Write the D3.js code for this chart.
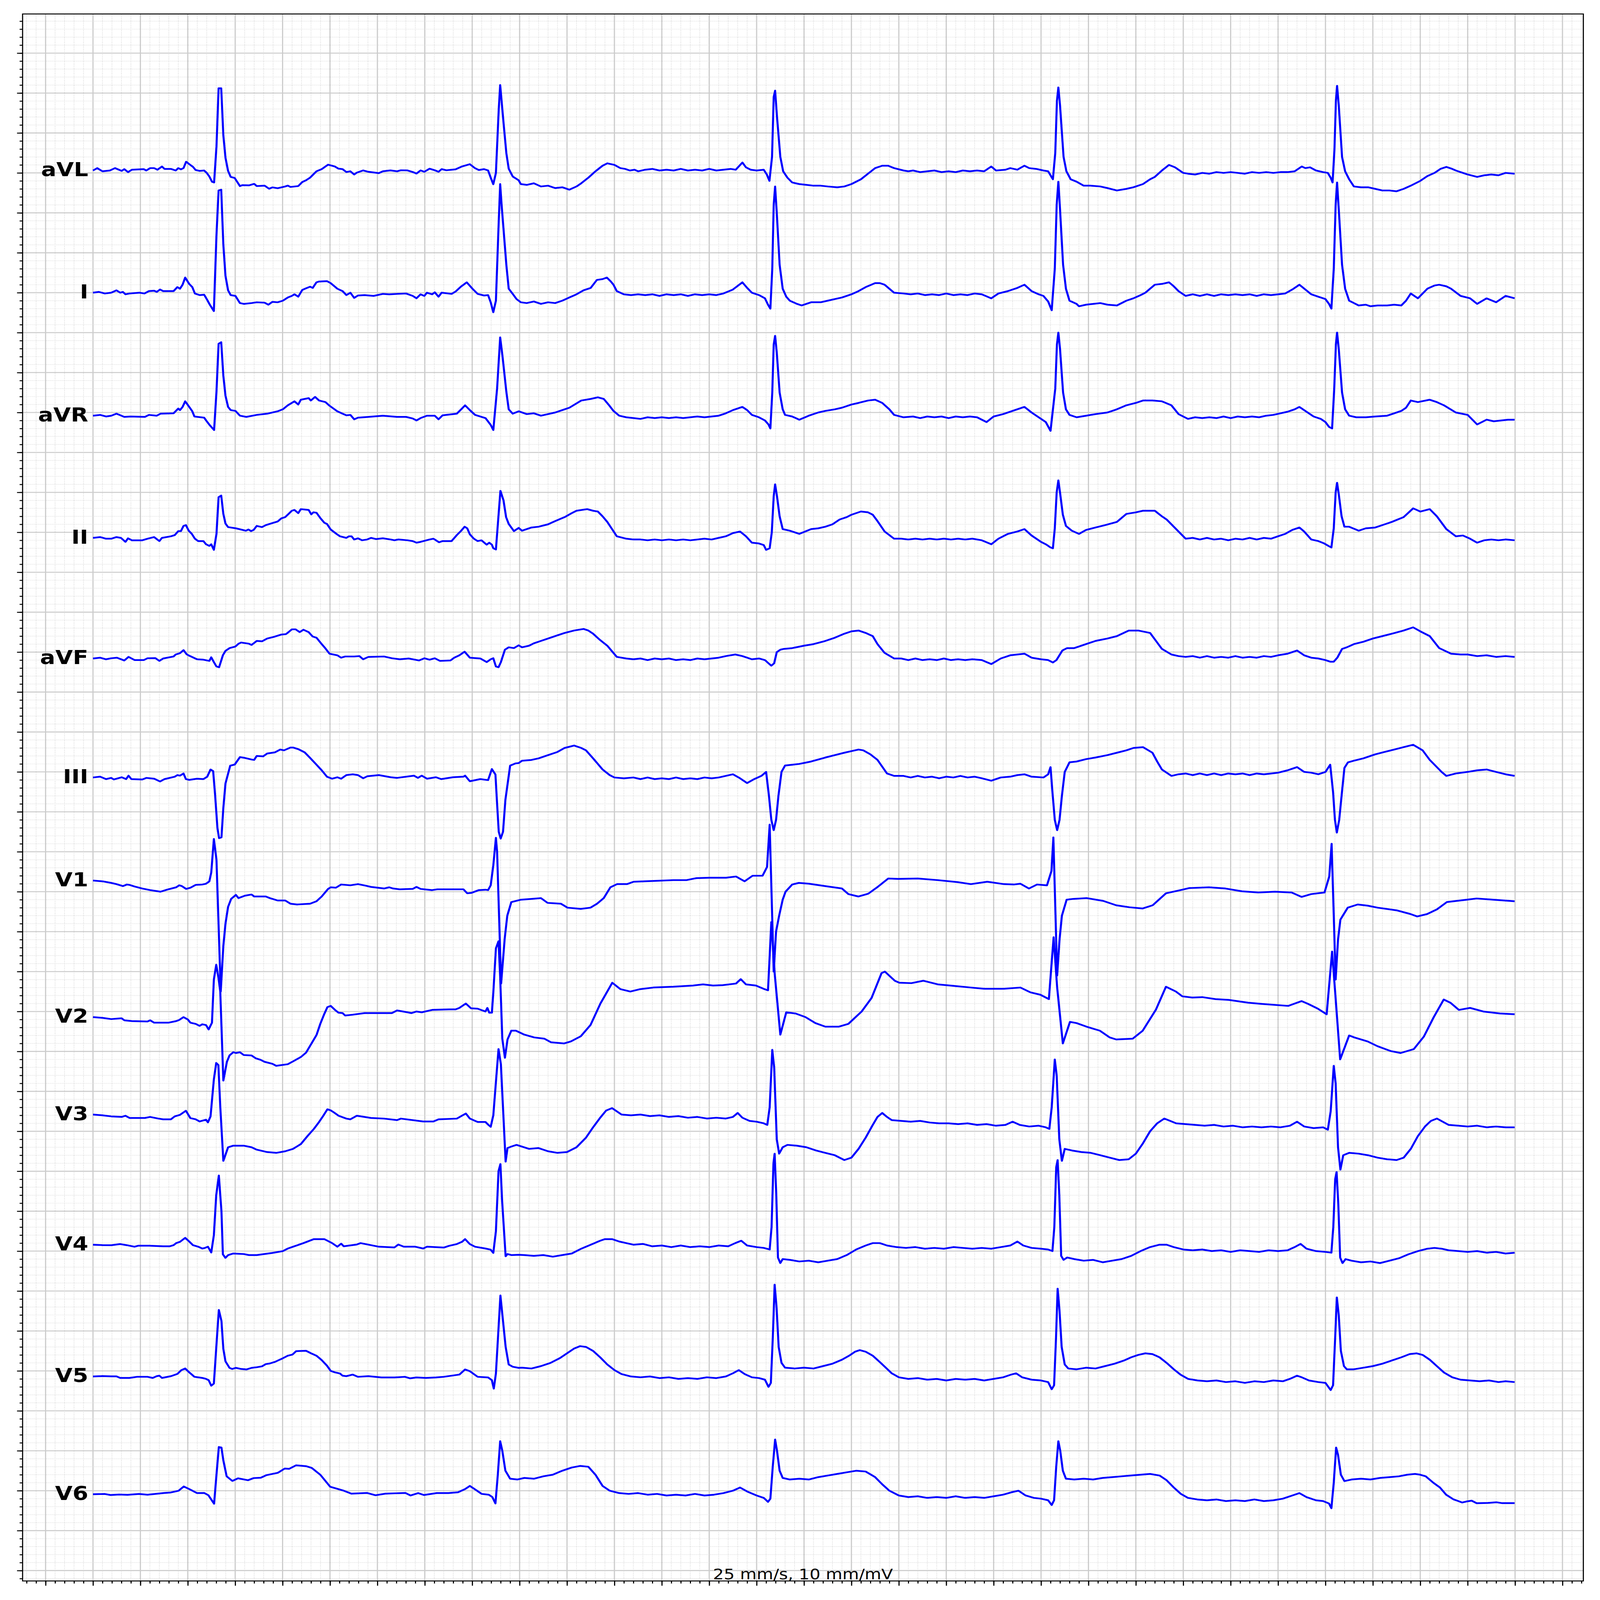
<!DOCTYPE html>
<html>
<head>
<meta charset="utf-8">
<script src="https://cdn.jsdelivr.net/npm/d3@7"></script>
<style>
html, body { margin: 0; padding: 0; background: #fff; overflow: hidden; }
svg { display: block; }
</style>
</head>
<body>
<div id="chart"></div>
<script>
// 12 lead ECG, 6 s, values as [seconds, mV]
const leadNames = ["aVL", "I", "aVR", "II", "aVF", "III", "V1", "V2", "V3", "V4", "V5", "V6"]
const leadOffsets = [0, -1.5, -3, -4.5, -6, -7.5, -9, -10.5, -12, -13.5, -15, -16.5]
const caption = "25 mm/s, 10 mm/mV"
const xLimits = [-0.297, 6.288]
const yLimits = [-17.63, 1.99]

const aVL = [[0,0.03],[0.018,0.06],[0.04,0.02],[0.071,0.03],[0.093,0.06],[0.121,0.025],[0.132,0.047],[0.148,0.01],[0.164,0.04],[0.214,0.047],[0.225,0.03],[0.241,0.06],[0.258,0.06],[0.272,0.04],[0.291,0.08],[0.302,0.05],[0.329,0.05],[0.349,0.03],[0.36,0.06],[0.371,0.045],[0.382,0.06],[0.393,0.14],[0.406,0.11],[0.422,0.075],[0.433,0.036],[0.45,0.025],[0.469,0.03],[0.48,0],[0.491,-0.045],[0.502,-0.11],[0.511,-0.12],[0.521,0.33],[0.53,1.06],[0.541,1.06],[0.55,0.47],[0.559,0.19],[0.57,0.025],[0.581,-0.05],[0.598,-0.064],[0.62,-0.165],[0.63,-0.153],[0.658,-0.156],[0.68,-0.137],[0.691,-0.165],[0.724,-0.159],[0.743,-0.198],[0.757,-0.181],[0.779,-0.192],[0.811,-0.17],[0.822,-0.159],[0.833,-0.176],[0.866,-0.165],[0.883,-0.114],[0.899,-0.092],[0.916,-0.059],[0.943,0.02],[0.965,0.047],[0.992,0.103],[1.02,0.081],[1.036,0.053],[1.053,0.047],[1.069,0.011],[1.086,0.02],[1.102,-0.02],[1.113,0.003],[1.14,0.031],[1.162,0.014],[1.206,-0.003],[1.223,0.02],[1.255,0.031],[1.283,0.02],[1.299,0.033],[1.327,0.031],[1.349,0.011],[1.365,-0.008],[1.382,0.031],[1.398,0.014],[1.42,0.053],[1.442,0.033],[1.458,0.014],[1.471,0.047],[1.491,0.033],[1.53,0.045],[1.557,0.081],[1.59,0.109],[1.612,0.059],[1.628,0.036],[1.65,0.047],[1.667,0.031],[1.678,-0.059],[1.689,-0.142],[1.7,0],[1.712,0.8],[1.718,1.1],[1.724,0.9],[1.733,0.6],[1.744,0.248],[1.754,0.053],[1.771,-0.045],[1.796,-0.092],
[1.805,-0.14],[1.83,-0.15],[1.86,-0.13],[1.89,-0.17],[1.92,-0.16],[1.95,-0.19],[1.98,-0.18],[2.01,-0.21],[2.04,-0.17],[2.06,-0.13],[2.09,-0.06],[2.12,0.02],[2.15,0.09],[2.17,0.12],[2.2,0.1],[2.225,0.06],[2.245,0.05],[2.265,0.03],[2.285,0.04],[2.3,0.02],[2.33,0.04],[2.36,0.05],[2.39,0.03],[2.42,0.04],[2.45,0.03],[2.48,0.05],[2.51,0.03],[2.54,0.04],[2.57,0.03],[2.6,0.05],[2.63,0.03],[2.66,0.04],[2.69,0.05],[2.712,0.04],[2.74,0.13],[2.755,0.07],[2.775,0.04],[2.8,0.03],[2.83,0.04],[2.843,-0.02],[2.854,-0.1],[2.865,0.2],[2.872,0.95],[2.878,1.03],[2.886,0.7],[2.9,0.2],[2.912,0.02],[2.93,-0.06],
[2.95,-0.12],[2.98,-0.14],[3.01,-0.15],[3.04,-0.16],[3.07,-0.16],[3.1,-0.17],[3.14,-0.18],[3.17,-0.17],[3.2,-0.14],[3.24,-0.08],[3.27,-0.01],[3.3,0.06],[3.33,0.09],[3.355,0.09],[3.38,0.06],[3.42,0.03],[3.44,0.02],[3.46,0.03],[3.49,0.01],[3.52,0.02],[3.55,0.03],[3.58,0.01],[3.61,0.02],[3.64,0.01],[3.67,0.03],[3.7,0.02],[3.73,0.03],[3.76,0.02],[3.79,0.08],[3.81,0.03],[3.85,0.04],[3.87,0.06],[3.9,0.04],[3.93,0.09],[3.95,0.06],[3.98,0.05],[4.01,0.03],[4.03,0.02],[4.04,-0.03],[4.05,-0.08],[4.06,0.25],[4.067,0.9],[4.073,1.07],[4.08,0.85],[4.095,0.2],[4.107,0.02],[4.125,-0.08],
[4.15,-0.11],[4.18,-0.16],[4.21,-0.16],[4.25,-0.17],[4.28,-0.19],[4.32,-0.22],[4.36,-0.2],[4.39,-0.18],[4.43,-0.14],[4.46,-0.08],[4.48,-0.05],[4.51,0.03],[4.54,0.1],[4.565,0.07],[4.6,0],[4.62,-0.01],[4.65,-0.02],[4.68,0],[4.71,-0.01],[4.74,0.01],[4.77,0],[4.8,0.01],[4.83,0],[4.86,-0.01],[4.89,0.01],[4.92,0],[4.95,0.01],[4.98,0],[5.01,0.01],[5.04,0.01],[5.07,0.02],[5.1,0.08],[5.115,0.06],[5.135,0.07],[5.16,0.03],[5.19,0.01],[5.21,0],[5.222,-0.06],[5.23,-0.12],[5.238,0.3],[5.244,0.9],[5.249,1.09],[5.256,0.85],[5.27,0.2],[5.283,0.02],[5.3,-0.08],
[5.32,-0.17],[5.35,-0.18],[5.38,-0.18],[5.41,-0.2],[5.44,-0.22],[5.47,-0.22],[5.5,-0.23],[5.53,-0.2],[5.56,-0.16],[5.6,-0.1],[5.63,-0.04],[5.66,0],[5.685,0.05],[5.71,0.075],[5.735,0.05],[5.75,0.03],[5.78,0],[5.8,-0.02],[5.84,-0.05],[5.87,-0.03],[5.9,-0.02],[5.93,-0.03],[5.96,0],[5.998,-0.01]]

const leadI = [[0,0],[0.025,0.01],[0.05,-0.01],[0.077,0],[0.099,0.03],[0.115,0],[0.126,0.01],[0.137,-0.02],[0.154,-0.01],[0.197,0],[0.217,-0.01],[0.236,0.02],[0.258,0.025],[0.269,0.01],[0.283,0.04],[0.296,0.02],[0.34,0.02],[0.356,0.07],[0.367,0.05],[0.378,0.1],[0.389,0.19],[0.406,0.11],[0.419,0.07],[0.43,-0.01],[0.45,-0.03],[0.469,-0.025],[0.48,-0.08],[0.493,-0.15],[0.51,-0.23],[0.521,0.72],[0.53,1.28],[0.541,1.29],[0.55,0.6],[0.559,0.21],[0.57,0.03],[0.581,-0.03],[0.601,-0.04],[0.62,-0.13],[0.636,-0.14],[0.669,-0.13],[0.691,-0.12],[0.724,-0.125],[0.74,-0.15],[0.757,-0.115],[0.779,-0.12],[0.801,-0.1],[0.822,-0.06],[0.839,-0.04],[0.85,-0.02],[0.866,-0.05],[0.883,0.035],[0.899,0.055],[0.916,0.075],[0.927,0.06],[0.943,0.13],[0.954,0.14],[0.987,0.145],[1.003,0.12],[1.031,0.05],[1.053,0.02],[1.069,-0.03],[1.086,0],[1.102,-0.065],[1.118,-0.035],[1.146,-0.03],[1.184,-0.04],[1.223,-0.015],[1.25,-0.02],[1.283,-0.015],[1.321,-0.01],[1.349,-0.04],[1.365,-0.07],[1.382,-0.02],[1.398,-0.04],[1.409,0],[1.431,-0.02],[1.442,0.005],[1.458,-0.05],[1.471,0],[1.513,-0.015],[1.53,0.015],[1.552,0.075],[1.577,0.13],[1.601,0.05],[1.623,-0.015],[1.65,-0.035],[1.667,-0.03],[1.678,-0.12],[1.689,-0.245],[1.7,-0.1],[1.712,0.9],[1.718,1.36],[1.724,1.1],[1.744,0.35],[1.754,0.05],[1.771,-0.015],[1.787,-0.08],
[1.805,-0.12],[1.83,-0.13],[1.86,-0.11],[1.89,-0.14],[1.92,-0.12],[1.95,-0.13],[1.98,-0.1],[2.01,-0.06],[2.04,-0.02],[2.07,0.03],[2.1,0.06],[2.126,0.16],[2.15,0.17],[2.168,0.19],[2.185,0.14],[2.196,0.1],[2.21,0.02],[2.24,-0.02],[2.27,-0.03],[2.3,-0.02],[2.33,-0.03],[2.36,-0.02],[2.39,-0.04],[2.42,-0.02],[2.45,-0.03],[2.48,-0.02],[2.51,-0.04],[2.54,-0.02],[2.57,-0.03],[2.6,-0.02],[2.63,-0.03],[2.66,-0.01],[2.7,0.04],[2.74,0.13],[2.76,0.06],[2.78,0],[2.81,-0.03],[2.835,-0.07],[2.848,-0.15],[2.858,-0.2],[2.866,0.3],[2.872,1.1],[2.878,1.33],[2.885,1],[2.897,0.35],[2.91,0.05],[2.925,-0.05],
[2.94,-0.1],[2.97,-0.14],[2.99,-0.16],[3.01,-0.14],[3.03,-0.12],[3.07,-0.12],[3.1,-0.1],[3.13,-0.08],[3.16,-0.06],[3.2,-0.02],[3.23,0.02],[3.26,0.07],[3.3,0.12],[3.32,0.12],[3.34,0.1],[3.36,0.05],[3.38,0],[3.42,-0.01],[3.45,-0.02],[3.48,-0.01],[3.51,-0.03],[3.54,-0.02],[3.57,-0.03],[3.6,-0.01],[3.63,-0.03],[3.66,-0.02],[3.69,-0.03],[3.72,-0.01],[3.75,-0.02],[3.79,-0.07],[3.82,-0.01],[3.86,0.02],[3.9,0.06],[3.93,0.1],[3.96,0.02],[3.99,-0.02],[4.01,-0.04],[4.03,-0.11],[4.045,-0.22],[4.058,0.3],[4.066,1.1],[4.073,1.39],[4.08,1.05],[4.093,0.35],[4.105,0.05],[4.12,-0.1],
[4.15,-0.14],[4.16,-0.17],[4.19,-0.15],[4.22,-0.14],[4.25,-0.13],[4.28,-0.15],[4.32,-0.16],[4.36,-0.1],[4.39,-0.07],[4.42,-0.03],[4.44,0],[4.48,0.1],[4.51,0.11],[4.54,0.13],[4.56,0.08],[4.58,0.02],[4.61,-0.04],[4.64,-0.02],[4.67,-0.04],[4.7,-0.02],[4.73,-0.04],[4.76,-0.02],[4.79,-0.03],[4.82,-0.02],[4.85,-0.03],[4.88,-0.02],[4.91,-0.04],[4.94,-0.02],[4.97,-0.03],[5,-0.02],[5.03,-0.01],[5.06,0.04],[5.09,0.1],[5.115,0.04],[5.14,-0.02],[5.17,-0.05],[5.2,-0.08],[5.215,-0.14],[5.225,-0.2],[5.235,0.3],[5.243,1.1],[5.249,1.38],[5.256,1.05],[5.27,0.35],[5.283,0.05],[5.3,-0.1],
[5.32,-0.13],[5.34,-0.16],[5.37,-0.15],[5.39,-0.17],[5.42,-0.16],[5.46,-0.16],[5.49,-0.15],[5.52,-0.16],[5.54,-0.1],[5.56,-0.01],[5.59,-0.07],[5.63,0.05],[5.66,0.09],[5.68,0.1],[5.71,0.08],[5.73,0.05],[5.77,-0.04],[5.81,-0.07],[5.84,-0.14],[5.88,-0.07],[5.92,-0.12],[5.96,-0.04],[5.998,-0.07]]

const aVR = [[0,-0.04],[0.03,-0.03],[0.055,-0.05],[0.077,-0.04],[0.099,-0.015],[0.132,-0.055],[0.159,-0.05],[0.219,-0.055],[0.236,-0.03],[0.269,-0.04],[0.285,-0.015],[0.34,-0.01],[0.36,0.05],[0.367,0.03],[0.378,0.07],[0.389,0.14],[0.406,0.07],[0.419,0.015],[0.428,-0.05],[0.469,-0.065],[0.48,-0.11],[0.493,-0.16],[0.511,-0.22],[0.521,0.26],[0.53,0.86],[0.541,0.88],[0.55,0.46],[0.559,0.21],[0.57,0.07],[0.581,0.03],[0.601,0.02],[0.62,-0.04],[0.647,-0.055],[0.691,-0.03],[0.735,-0.015],[0.779,0.015],[0.801,0.04],[0.822,0.09],[0.85,0.14],[0.866,0.1],[0.877,0.16],[0.91,0.18],[0.919,0.15],[0.937,0.195],[0.954,0.15],[0.981,0.13],[0.998,0.085],[1.031,0.015],[1.053,-0.015],[1.069,-0.035],[1.086,-0.03],[1.102,-0.085],[1.118,-0.065],[1.162,-0.055],[1.223,-0.04],[1.283,-0.055],[1.321,-0.055],[1.349,-0.075],[1.365,-0.1],[1.382,-0.07],[1.409,-0.04],[1.442,-0.04],[1.458,-0.085],[1.475,-0.035],[1.535,-0.015],[1.557,0.05],[1.57,0.09],[1.59,0.03],[1.612,-0.03],[1.656,-0.07],[1.678,-0.155],[1.689,-0.22],[1.705,0.3],[1.718,0.94],[1.728,0.7],[1.744,0.26],[1.754,0.04],[1.771,-0.015],[1.796,0.015],
[1.83,-0.02],[1.86,-0.01],[1.89,-0.04],[1.92,-0.02],[1.95,0],[1.98,0.03],[2.01,0.06],[2.06,0.15],[2.1,0.17],[2.13,0.19],[2.155,0.17],[2.175,0.1],[2.196,0.02],[2.22,-0.04],[2.25,-0.06],[2.28,-0.07],[2.31,-0.08],[2.34,-0.06],[2.37,-0.07],[2.4,-0.06],[2.43,-0.07],[2.46,-0.06],[2.49,-0.07],[2.52,-0.06],[2.55,-0.05],[2.58,-0.06],[2.61,-0.05],[2.64,-0.04],[2.67,-0.01],[2.7,0.03],[2.74,0.07],[2.76,0.03],[2.78,-0.03],[2.81,-0.06],[2.835,-0.1],[2.85,-0.15],[2.858,-0.2],[2.866,0.25],[2.872,0.85],[2.878,0.96],[2.885,0.75],[2.897,0.25],[2.91,0.04],[2.92,-0.03],
[2.95,-0.05],[2.98,-0.09],[3.02,-0.04],[3.06,0],[3.09,0.02],[3.13,0.04],[3.16,0.06],[3.2,0.1],[3.23,0.12],[3.27,0.15],[3.3,0.16],[3.33,0.12],[3.36,0.04],[3.38,-0.03],[3.42,-0.06],[3.46,-0.05],[3.49,-0.07],[3.52,-0.05],[3.55,-0.06],[3.58,-0.05],[3.61,-0.07],[3.64,-0.05],[3.67,-0.06],[3.7,-0.05],[3.73,-0.06],[3.77,-0.12],[3.8,-0.05],[3.84,-0.02],[3.88,0.02],[3.93,0.07],[3.96,0],[3.99,-0.06],[4.02,-0.12],[4.04,-0.23],[4.06,0.3],[4.067,0.85],[4.073,1],[4.08,0.8],[4.093,0.25],[4.105,0.04],[4.12,-0.03],
[4.15,-0.06],[4.19,-0.04],[4.23,-0.02],[4.28,0],[4.32,0.04],[4.36,0.09],[4.4,0.12],[4.43,0.15],[4.47,0.15],[4.51,0.14],[4.55,0.09],[4.58,-0.02],[4.62,-0.08],[4.65,-0.06],[4.68,-0.07],[4.71,-0.06],[4.74,-0.07],[4.77,-0.05],[4.8,-0.07],[4.83,-0.05],[4.86,-0.06],[4.89,-0.05],[4.92,-0.06],[4.95,-0.04],[4.98,-0.03],[5.01,-0.01],[5.04,0.01],[5.07,0.04],[5.09,0.07],[5.12,0.01],[5.15,-0.05],[5.18,-0.08],[5.2,-0.12],[5.215,-0.18],[5.228,-0.2],[5.237,0.3],[5.244,0.85],[5.249,1],[5.256,0.8],[5.27,0.25],[5.283,0.04],[5.3,-0.04],
[5.33,-0.06],[5.37,-0.06],[5.41,-0.05],[5.46,-0.04],[5.49,-0.01],[5.52,0.02],[5.54,0.06],[5.56,0.15],[5.59,0.13],[5.64,0.16],[5.67,0.13],[5.7,0.09],[5.75,0],[5.8,-0.03],[5.84,-0.15],[5.88,-0.09],[5.91,-0.11],[5.94,-0.1],[5.97,-0.09],[5.998,-0.09]]

const leadII = [[0,-0.07],[0.03,-0.06],[0.055,-0.08],[0.077,-0.08],[0.099,-0.06],[0.118,-0.07],[0.137,-0.12],[0.148,-0.075],[0.164,-0.1],[0.208,-0.1],[0.23,-0.08],[0.258,-0.06],[0.28,-0.11],[0.291,-0.07],[0.329,-0.05],[0.345,-0.035],[0.36,0.015],[0.371,0.015],[0.382,0.08],[0.392,0.09],[0.404,0.02],[0.417,-0.02],[0.43,-0.08],[0.444,-0.11],[0.466,-0.11],[0.477,-0.15],[0.491,-0.17],[0.499,-0.15],[0.51,-0.22],[0.521,-0.02],[0.53,0.44],[0.541,0.46],[0.55,0.23],[0.559,0.11],[0.57,0.065],[0.603,0.05],[0.645,0.02],[0.656,0.035],[0.667,0.015],[0.678,0.03],[0.691,0.08],[0.713,0.065],[0.729,0.09],[0.762,0.12],[0.779,0.135],[0.795,0.175],[0.811,0.19],[0.825,0.23],[0.839,0.27],[0.85,0.28],[0.866,0.24],[0.877,0.29],[0.91,0.28],[0.921,0.225],[0.93,0.25],[0.943,0.245],[0.96,0.175],[0.976,0.12],[0.987,0.105],[1.003,0.035],[1.025,-0.015],[1.042,-0.05],[1.069,-0.07],[1.08,-0.05],[1.091,-0.05],[1.102,-0.09],[1.118,-0.075],[1.135,-0.1],[1.157,-0.09],[1.173,-0.07],[1.195,-0.085],[1.223,-0.075],[1.256,-0.09],[1.272,-0.1],[1.288,-0.09],[1.327,-0.1],[1.349,-0.11],[1.365,-0.13],[1.382,-0.12],[1.42,-0.09],[1.436,-0.08],[1.447,-0.1],[1.46,-0.125],[1.475,-0.11],[1.513,-0.11],[1.535,-0.035],[1.552,0.015],[1.568,0.07],[1.579,0.05],[1.59,-0.025],[1.607,-0.08],[1.623,-0.11],[1.639,-0.1],[1.661,-0.155],[1.672,-0.13],[1.683,-0.155],[1.689,-0.2],[1.7,-0.215],[1.719,0.52],[1.732,0.4],[1.743,0.19],[1.754,0.105],[1.776,0.015],[1.796,0.055],
[1.81,0.02],[1.85,0.06],[1.88,0.07],[1.92,0.1],[1.95,0.14],[1.99,0.19],[2.02,0.24],[2.04,0.27],[2.085,0.29],[2.11,0.27],[2.13,0.26],[2.15,0.2],[2.17,0.13],[2.19,0.04],[2.21,-0.05],[2.25,-0.08],[2.28,-0.09],[2.31,-0.09],[2.34,-0.1],[2.37,-0.09],[2.4,-0.1],[2.43,-0.09],[2.46,-0.1],[2.49,-0.09],[2.52,-0.1],[2.55,-0.09],[2.58,-0.08],[2.61,-0.09],[2.64,-0.07],[2.67,-0.05],[2.7,-0.01],[2.73,0.01],[2.755,-0.05],[2.78,-0.13],[2.81,-0.14],[2.83,-0.16],[2.84,-0.22],[2.855,-0.2],[2.864,0],[2.872,0.45],[2.878,0.6],[2.886,0.45],[2.897,0.2],[2.91,0.04],
[2.94,0.02],[2.98,-0.02],[3.03,0.04],[3.06,0.05],[3.09,0.07],[3.12,0.1],[3.15,0.16],[3.18,0.19],[3.2,0.22],[3.24,0.26],[3.27,0.25],[3.29,0.22],[3.31,0.14],[3.34,0.01],[3.38,-0.08],[3.41,-0.08],[3.44,-0.09],[3.47,-0.08],[3.5,-0.09],[3.53,-0.08],[3.56,-0.09],[3.59,-0.08],[3.62,-0.09],[3.65,-0.08],[3.68,-0.09],[3.71,-0.08],[3.75,-0.1],[3.79,-0.15],[3.82,-0.08],[3.86,-0.02],[3.9,0.01],[3.93,0.04],[3.96,-0.04],[4,-0.12],[4.02,-0.15],[4.04,-0.19],[4.05,-0.2],[4.058,0.05],[4.066,0.5],[4.073,0.65],[4.08,0.5],[4.092,0.22],[4.105,0.08],
[4.13,0.02],[4.16,-0.02],[4.19,0.03],[4.23,0.06],[4.27,0.09],[4.32,0.13],[4.36,0.23],[4.4,0.25],[4.43,0.27],[4.48,0.27],[4.51,0.2],[4.53,0.16],[4.57,0.04],[4.61,-0.08],[4.64,-0.07],[4.67,-0.09],[4.7,-0.07],[4.73,-0.09],[4.76,-0.08],[4.79,-0.1],[4.82,-0.08],[4.85,-0.09],[4.88,-0.07],[4.91,-0.09],[4.94,-0.07],[4.97,-0.08],[5,-0.05],[5.03,-0.02],[5.06,0.03],[5.09,0.06],[5.11,0.01],[5.14,-0.09],[5.17,-0.11],[5.195,-0.14],[5.212,-0.17],[5.225,-0.19],[5.235,0.05],[5.243,0.5],[5.249,0.62],[5.256,0.48],[5.268,0.2],[5.28,0.07],
[5.3,0.07],[5.34,0.02],[5.37,0.05],[5.41,0.06],[5.45,0.1],[5.48,0.13],[5.53,0.19],[5.57,0.3],[5.6,0.26],[5.64,0.29],[5.67,0.2],[5.71,0.04],[5.75,-0.05],[5.78,-0.04],[5.81,-0.08],[5.84,-0.13],[5.87,-0.1],[5.9,-0.09],[5.93,-0.1],[5.96,-0.09],[5.998,-0.1]]

const aVF = [[0,-0.08],[0.03,-0.07],[0.055,-0.09],[0.077,-0.077],[0.101,-0.07],[0.132,-0.105],[0.15,-0.06],[0.176,-0.1],[0.214,-0.1],[0.23,-0.077],[0.263,-0.075],[0.28,-0.11],[0.296,-0.08],[0.34,-0.055],[0.349,-0.03],[0.367,-0.013],[0.382,0.025],[0.395,-0.027],[0.406,-0.045],[0.439,-0.09],[0.466,-0.095],[0.491,-0.11],[0.499,-0.065],[0.51,-0.125],[0.521,-0.18],[0.532,-0.19],[0.548,-0.04],[0.559,0.015],[0.576,0.05],[0.601,0.07],[0.614,0.105],[0.625,0.12],[0.658,0.105],[0.669,0.09],[0.678,0.11],[0.691,0.14],[0.713,0.135],[0.735,0.17],[0.762,0.19],[0.795,0.22],[0.814,0.225],[0.825,0.25],[0.839,0.285],[0.855,0.285],[0.872,0.25],[0.888,0.28],[0.91,0.25],[0.927,0.195],[0.943,0.18],[0.965,0.1],[0.981,0.045],[0.998,-0.02],[1.031,-0.04],[1.047,-0.07],[1.064,-0.055],[1.102,-0.055],[1.124,-0.05],[1.14,-0.09],[1.162,-0.06],[1.228,-0.055],[1.261,-0.077],[1.294,-0.09],[1.332,-0.08],[1.376,-0.105],[1.398,-0.077],[1.42,-0.095],[1.442,-0.077],[1.464,-0.11],[1.508,-0.105],[1.524,-0.07],[1.546,-0.04],[1.568,0.005],[1.59,-0.07],[1.634,-0.08],[1.661,-0.125],[1.678,-0.09],[1.689,-0.077],[1.7,-0.18],[1.711,-0.19],[1.721,-0.125],[1.738,0.03],[1.754,0.06],[1.776,0.05],[1.796,0.085],
[1.81,0.06],[1.84,0.08],[1.86,0.11],[1.89,0.14],[1.92,0.17],[1.96,0.21],[1.99,0.24],[2.03,0.27],[2.07,0.29],[2.09,0.27],[2.11,0.23],[2.14,0.15],[2.17,0.08],[2.19,0.01],[2.21,-0.06],[2.25,-0.08],[2.28,-0.09],[2.31,-0.08],[2.34,-0.1],[2.37,-0.08],[2.4,-0.09],[2.43,-0.08],[2.46,-0.1],[2.49,-0.09],[2.52,-0.1],[2.55,-0.08],[2.58,-0.09],[2.61,-0.08],[2.64,-0.07],[2.67,-0.05],[2.71,-0.03],[2.74,-0.05],[2.78,-0.09],[2.81,-0.08],[2.835,-0.1],[2.85,-0.14],[2.862,-0.17],[2.874,-0.14],[2.885,0],[2.9,0.03],[2.915,0.04],
[2.95,0.05],[3,0.08],[3.04,0.1],[3.09,0.14],[3.13,0.18],[3.17,0.23],[3.2,0.26],[3.23,0.27],[3.26,0.24],[3.29,0.2],[3.31,0.1],[3.34,-0.01],[3.38,-0.08],[3.41,-0.08],[3.44,-0.1],[3.47,-0.08],[3.5,-0.1],[3.53,-0.09],[3.56,-0.1],[3.59,-0.08],[3.62,-0.1],[3.65,-0.09],[3.68,-0.1],[3.71,-0.09],[3.75,-0.1],[3.79,-0.15],[3.83,-0.08],[3.87,-0.04],[3.93,-0.02],[3.96,-0.07],[4,-0.09],[4.03,-0.1],[4.05,-0.13],[4.065,-0.1],[4.09,0.02],[4.11,0.05],
[4.14,0.05],[4.19,0.1],[4.23,0.14],[4.28,0.17],[4.32,0.2],[4.37,0.27],[4.41,0.27],[4.46,0.24],[4.49,0.12],[4.51,0.04],[4.55,-0.03],[4.58,-0.05],[4.61,-0.06],[4.64,-0.05],[4.67,-0.07],[4.7,-0.05],[4.73,-0.07],[4.76,-0.06],[4.79,-0.07],[4.82,-0.05],[4.85,-0.07],[4.88,-0.06],[4.91,-0.07],[4.94,-0.05],[4.97,-0.06],[5,-0.04],[5.04,-0.02],[5.08,0.02],[5.11,-0.04],[5.14,-0.07],[5.17,-0.08],[5.2,-0.1],[5.22,-0.12],[5.235,-0.12],[5.25,-0.07],[5.27,0.04],[5.29,0.06],
[5.32,0.1],[5.36,0.13],[5.4,0.17],[5.44,0.2],[5.48,0.23],[5.53,0.27],[5.57,0.31],[5.6,0.26],[5.64,0.2],[5.68,0.05],[5.73,-0.02],[5.77,-0.03],[5.8,-0.03],[5.84,-0.05],[5.88,-0.04],[5.92,-0.06],[5.96,-0.05],[5.998,-0.06]]

const leadIII = [[0,-0.07],[0.03,-0.06],[0.055,-0.09],[0.077,-0.075],[0.088,-0.095],[0.121,-0.067],[0.14,-0.09],[0.15,-0.047],[0.162,-0.09],[0.208,-0.095],[0.225,-0.075],[0.258,-0.085],[0.283,-0.12],[0.302,-0.09],[0.345,-0.06],[0.356,-0.04],[0.367,-0.047],[0.382,-0.02],[0.392,-0.09],[0.406,-0.1],[0.439,-0.085],[0.466,-0.09],[0.482,-0.06],[0.496,0.03],[0.507,0.01],[0.515,-0.28],[0.525,-0.7],[0.532,-0.83],[0.542,-0.82],[0.55,-0.45],[0.559,-0.145],[0.579,0.078],[0.598,0.092],[0.62,0.185],[0.641,0.175],[0.669,0.155],[0.68,0.15],[0.691,0.2],[0.718,0.195],[0.735,0.23],[0.768,0.245],[0.79,0.28],[0.806,0.27],[0.833,0.305],[0.844,0.305],[0.866,0.285],[0.893,0.245],[0.916,0.175],[0.943,0.09],[0.965,0.02],[0.987,-0.06],[1.009,-0.085],[1.031,-0.067],[1.047,-0.085],[1.069,-0.04],[1.096,-0.03],[1.118,-0.04],[1.14,-0.08],[1.157,-0.055],[1.206,-0.04],[1.256,-0.067],[1.283,-0.075],[1.354,-0.047],[1.371,-0.075],[1.387,-0.047],[1.409,-0.085],[1.447,-0.067],[1.469,-0.09],[1.519,-0.067],[1.563,-0.06],[1.57,-0.047],[1.59,-0.117],[1.634,-0.09],[1.667,-0.103],[1.683,0.036],[1.698,-0.033],[1.705,-0.4],[1.712,-0.75],[1.72,-0.835],[1.73,-0.75],[1.74,-0.35],[1.76,0.078],[1.782,0.106],[1.796,0.11],
[1.81,0.14],[1.85,0.15],[1.88,0.17],[1.92,0.21],[1.96,0.25],[1.99,0.3],[2.03,0.33],[2.06,0.3],[2.08,0.27],[2.11,0.17],[2.15,0.03],[2.18,-0.04],[2.2,-0.07],[2.24,-0.08],[2.28,-0.07],[2.31,-0.09],[2.34,-0.07],[2.37,-0.09],[2.4,-0.08],[2.43,-0.09],[2.46,-0.07],[2.49,-0.09],[2.52,-0.08],[2.55,-0.09],[2.58,-0.07],[2.61,-0.08],[2.64,-0.07],[2.7,-0.03],[2.73,-0.08],[2.76,-0.14],[2.79,-0.09],[2.82,-0.05],[2.84,0],[2.852,-0.3],[2.862,-0.6],[2.872,-0.73],[2.882,-0.6],[2.892,-0.3],[2.905,0],[2.92,0.08],
[2.95,0.09],[2.98,0.1],[3.03,0.13],[3.09,0.18],[3.13,0.21],[3.17,0.24],[3.2,0.26],[3.23,0.28],[3.25,0.27],[3.28,0.22],[3.31,0.15],[3.35,-0.02],[3.38,-0.05],[3.42,-0.05],[3.45,-0.07],[3.48,-0.05],[3.51,-0.07],[3.54,-0.06],[3.57,-0.08],[3.6,-0.06],[3.63,-0.07],[3.66,-0.05],[3.69,-0.07],[3.72,-0.06],[3.75,-0.08],[3.79,-0.11],[3.83,-0.07],[3.87,-0.06],[3.9,-0.04],[3.93,-0.03],[3.96,-0.06],[4.01,-0.07],[4.03,-0.03],[4.04,0.06],[4.048,-0.25],[4.058,-0.6],[4.068,-0.73],[4.078,-0.6],[4.088,-0.3],[4.1,0],[4.12,0.12],
[4.15,0.13],[4.19,0.16],[4.23,0.18],[4.28,0.21],[4.32,0.24],[4.36,0.27],[4.39,0.3],[4.43,0.31],[4.47,0.24],[4.49,0.13],[4.51,0.03],[4.55,-0.05],[4.58,-0.03],[4.61,-0.02],[4.64,-0.04],[4.67,-0.02],[4.7,-0.04],[4.73,-0.02],[4.76,-0.04],[4.79,-0.02],[4.82,-0.03],[4.85,-0.02],[4.88,-0.04],[4.91,-0.02],[4.94,-0.03],[4.97,-0.02],[5,-0.01],[5.04,0.02],[5.08,0.06],[5.11,0],[5.14,-0.01],[5.17,-0.03],[5.2,0],[5.22,0.09],[5.232,-0.25],[5.24,-0.6],[5.248,-0.76],[5.258,-0.6],[5.268,-0.3],[5.28,0.05],[5.295,0.12],
[5.32,0.14],[5.36,0.17],[5.41,0.22],[5.45,0.25],[5.49,0.28],[5.53,0.31],[5.57,0.34],[5.61,0.27],[5.64,0.15],[5.66,0.09],[5.69,0.0],[5.71,-0.05],[5.75,-0.02],[5.8,0],[5.84,0.02],[5.88,0.03],[5.92,0],[5.96,-0.03],[5.998,-0.05]]

const V1 = [[0,0.14],[0.04,0.13],[0.077,0.11],[0.099,0.095],[0.126,0.07],[0.143,0.09],[0.154,0.085],[0.175,0.065],[0.208,0.04],[0.241,0.02],[0.285,0],[0.312,0.025],[0.351,0.055],[0.364,0.08],[0.375,0.07],[0.393,0.035],[0.411,0.05],[0.433,0.085],[0.461,0.09],[0.477,0.1],[0.491,0.13],[0.499,0.24],[0.51,0.66],[0.521,0.4],[0.539,-1.25],[0.55,-0.68],[0.559,-0.4],[0.57,-0.19],[0.583,-0.09],[0.603,-0.04],[0.614,-0.08],[0.641,-0.05],[0.669,-0.035],[0.68,-0.06],[0.729,-0.06],[0.746,-0.08],[0.779,-0.11],[0.811,-0.11],[0.833,-0.15],[0.861,-0.16],[0.916,-0.15],[0.943,-0.12],[0.965,-0.06],[0.992,0.035],[1.003,0.055],[1.025,0.05],[1.047,0.09],[1.086,0.08],[1.118,0.095],[1.151,0.075],[1.173,0.06],[1.228,0.04],[1.25,0.055],[1.266,0.04],[1.294,0.03],[1.349,0.035],[1.365,0.06],[1.382,0.035],[1.431,0.02],[1.453,0.03],[1.563,0.03],[1.579,-0.02],[1.596,-0.015],[1.628,0.02],[1.656,0.025],[1.667,0.02],[1.678,0.08],[1.689,0.33],[1.7,0.675],[1.705,0.5],[1.722,-1.15],[1.737,-0.59],[1.748,-0.3],[1.765,-0.13],[1.806,-0.1],[1.85,-0.09],[1.89,-0.08],[1.918,-0.14],[1.974,-0.15],[2.002,-0.2],[2.058,-0.215],[2.099,-0.2],[2.127,-0.15],[2.155,-0.08],[2.183,0.055],[2.211,0.095],[2.253,0.095],[2.281,0.125],[2.364,0.135],[2.448,0.145],[2.504,0.145],[2.546,0.17],[2.601,0.175],[2.671,0.175],[2.713,0.19],[2.749,0.13],[2.783,0.2],[2.825,0.2],[2.844,0.31],[2.855,0.84],[2.872,-1],[2.882,-0.5],[2.895,-0.3],[2.91,-0.1],[2.922,0],[2.95,0.09],[2.978,0.11],[3.02,0.1],[3.09,0.07],[3.16,0.04],[3.187,-0.03],[3.229,-0.06],[3.271,-0.025],[3.313,0.065],[3.355,0.165],[3.397,0.16],[3.48,0.165],[3.564,0.145],[3.648,0.12],[3.704,0.095],[3.773,0.125],[3.843,0.095],[3.885,0.09],[3.913,0.1],[3.949,0.04],[3.983,0.09],[4.025,0.08],[4.044,0.26],[4.052,0.68],[4.068,-1.05],[4.078,-0.6],[4.088,-0.3],[4.108,-0.1],[4.136,-0.09],[4.192,-0.08],[4.262,-0.115],[4.317,-0.17],[4.373,-0.195],[4.429,-0.21],[4.471,-0.17],[4.527,-0.02],[4.596,0.025],[4.624,0.045],[4.708,0.055],[4.778,0.04],[4.848,0.005],[4.917,-0.01],[4.987,0],[5.057,-0.01],[5.099,-0.065],[5.14,-0.03],[5.196,-0.01],[5.216,0.19],[5.226,0.6],[5.243,-1.1],[5.253,-0.6],[5.263,-0.35],[5.294,-0.2],[5.336,-0.16],[5.378,-0.175],[5.42,-0.2],[5.503,-0.235],[5.559,-0.28],[5.587,-0.31],[5.629,-0.28],[5.671,-0.22],[5.712,-0.13],[5.796,-0.1],[5.838,-0.085],[5.908,-0.1],[5.977,-0.115],[5.998,-0.12]]

const V2 = [[0,-0.07],[0.04,-0.08],[0.077,-0.095],[0.121,-0.085],[0.132,-0.11],[0.164,-0.12],[0.23,-0.125],[0.241,-0.11],[0.258,-0.14],[0.318,-0.14],[0.351,-0.12],[0.364,-0.105],[0.382,-0.07],[0.4,-0.1],[0.411,-0.14],[0.433,-0.155],[0.45,-0.18],[0.461,-0.16],[0.477,-0.17],[0.488,-0.225],[0.502,-0.14],[0.51,0.4],[0.52,0.585],[0.529,0.43],[0.537,0.25],[0.55,-0.865],[0.565,-0.63],[0.576,-0.55],[0.592,-0.51],[0.603,-0.52],[0.62,-0.51],[0.636,-0.545],[0.669,-0.55],[0.686,-0.585],[0.707,-0.605],[0.724,-0.63],[0.757,-0.655],[0.773,-0.68],[0.822,-0.66],[0.85,-0.615],[0.877,-0.57],[0.899,-0.515],[0.921,-0.405],[0.943,-0.295],[0.959,-0.155],[0.976,-0.03],[0.989,0.055],[1.003,0.07],[1.025,0.01],[1.036,-0.015],[1.053,-0.02],[1.064,-0.05],[1.096,-0.04],[1.146,-0.02],[1.261,-0.02],[1.283,0.013],[1.327,-0.01],[1.343,-0.02],[1.365,0],[1.387,-0.01],[1.431,0.02],[1.502,0.027],[1.53,0.027],[1.546,0.045],[1.573,0.1],[1.595,0.04],[1.623,0.035],[1.656,0],[1.664,0.045],[1.672,-0.015],[1.683,-0.015],[1.689,0.235],[1.7,0.79],[1.711,0.88],[1.718,0.43],[1.727,-0.34],[1.738,-0.58],[1.749,-0.35],[1.765,-0.24],[1.784,-0.24],[1.82,-0.29],[1.862,-0.325],[1.904,-0.34],[1.932,-0.385],[1.988,-0.4],[2.016,-0.375],[2.058,-0.31],[2.099,-0.17],[2.141,0.1],[2.191,0.36],[2.225,0.28],[2.267,0.25],[2.309,0.28],[2.364,0.3],[2.448,0.31],[2.532,0.325],[2.574,0.34],[2.616,0.325],[2.657,0.33],[2.713,0.35],[2.733,0.405],[2.755,0.34],[2.797,0.325],[2.833,0.28],[2.848,0.265],[2.862,1.12],[2.876,0.48],[2.9,-0.29],[2.925,-0.01],[2.964,-0.025],[3.006,-0.07],[3.048,-0.145],[3.09,-0.19],[3.146,-0.19],[3.187,-0.155],[3.243,0],[3.285,0.17],[3.327,0.48],[3.341,0.5],[3.383,0.385],[3.402,0.36],[3.453,0.355],[3.503,0.385],[3.564,0.34],[3.634,0.32],[3.704,0.3],[3.76,0.285],[3.843,0.285],[3.913,0.3],[3.955,0.24],[3.997,0.21],[4.033,0.155],[4.053,0.93],[4.068,0.3],[4.092,-0.4],[4.122,-0.13],[4.15,-0.145],[4.192,-0.19],[4.248,-0.24],[4.29,-0.325],[4.317,-0.35],[4.387,-0.34],[4.429,-0.24],[4.485,0.025],[4.527,0.31],[4.569,0.25],[4.596,0.19],[4.638,0.175],[4.68,0.18],[4.736,0.155],[4.792,0.145],[4.875,0.11],[4.931,0.095],[5.043,0.07],[5.099,0.13],[5.127,0.095],[5.168,0.035],[5.205,-0.035],[5.228,0.75],[5.242,0.2],[5.262,-0.6],[5.3,-0.3],[5.322,-0.325],[5.378,-0.375],[5.42,-0.435],[5.475,-0.495],[5.517,-0.52],[5.573,-0.47],[5.615,-0.315],[5.657,-0.07],[5.699,0.15],[5.727,0.11],[5.763,0.02],[5.81,0.045],[5.866,0],[5.936,-0.025],[5.998,-0.035]]

const V3 = [[0,0.21],[0.04,0.2],[0.077,0.187],[0.121,0.18],[0.137,0.195],[0.154,0.167],[0.219,0.167],[0.241,0.18],[0.274,0.16],[0.296,0.15],[0.329,0.15],[0.345,0.187],[0.367,0.206],[0.392,0.257],[0.411,0.165],[0.433,0.15],[0.45,0.123],[0.477,0.145],[0.485,0.112],[0.496,0.187],[0.51,0.65],[0.52,0.856],[0.529,0.83],[0.537,0.31],[0.55,-0.37],[0.57,-0.2],[0.592,-0.18],[0.636,-0.18],[0.669,-0.2],[0.691,-0.23],[0.735,-0.26],[0.773,-0.27],[0.811,-0.25],[0.844,-0.22],[0.877,-0.16],[0.905,-0.06],[0.932,0.03],[0.954,0.117],[0.97,0.187],[0.989,0.276],[1.003,0.262],[1.02,0.229],[1.036,0.195],[1.069,0.159],[1.086,0.15],[1.113,0.195],[1.173,0.167],[1.228,0.159],[1.283,0.14],[1.299,0.159],[1.393,0.123],[1.436,0.123],[1.458,0.15],[1.535,0.159],[1.573,0.223],[1.59,0.159],[1.623,0.117],[1.656,0.117],[1.667,0.084],[1.678,0.056],[1.689,0.2],[1.711,1.03],[1.721,0.84],[1.741,-0.38],[1.749,-0.21],[1.766,-0.19],[1.787,-0.17],
[1.84,-0.22],[1.88,-0.21],[1.92,-0.25],[1.96,-0.27],[2,-0.26],[2.04,-0.2],[2.08,-0.08],[2.11,0.05],[2.14,0.17],[2.165,0.26],[2.19,0.29],[2.21,0.25],[2.23,0.21],[2.27,0.2],[2.31,0.21],[2.35,0.19],[2.39,0.2],[2.43,0.18],[2.47,0.19],[2.51,0.17],[2.55,0.18],[2.59,0.16],[2.63,0.17],[2.67,0.16],[2.7,0.18],[2.72,0.23],[2.74,0.17],[2.77,0.13],[2.8,0.12],[2.83,0.1],[2.845,0.08],[2.855,0.3],[2.866,1.02],[2.874,0.8],[2.885,-0.1],[2.895,-0.28],[2.91,-0.2],
[2.93,-0.17],[2.97,-0.18],[3.01,-0.2],[3.05,-0.24],[3.09,-0.27],[3.13,-0.3],[3.17,-0.36],[3.2,-0.33],[3.23,-0.22],[3.26,-0.08],[3.29,0.08],[3.31,0.18],[3.33,0.23],[3.35,0.18],[3.37,0.14],[3.41,0.13],[3.45,0.12],[3.49,0.13],[3.53,0.11],[3.57,0.1],[3.61,0.1],[3.65,0.09],[3.69,0.1],[3.73,0.08],[3.77,0.09],[3.81,0.07],[3.85,0.08],[3.88,0.12],[3.91,0.08],[3.95,0.06],[3.99,0.07],[4.02,0.05],[4.035,0.03],[4.045,0.3],[4.058,0.9],[4.066,0.7],[4.077,-0.1],[4.088,-0.37],[4.1,-0.22],
[4.13,-0.24],[4.17,-0.26],[4.21,-0.27],[4.25,-0.3],[4.29,-0.33],[4.33,-0.36],[4.37,-0.35],[4.4,-0.28],[4.43,-0.15],[4.46,0],[4.49,0.1],[4.52,0.16],[4.545,0.13],[4.57,0.1],[4.61,0.09],[4.65,0.08],[4.69,0.07],[4.73,0.08],[4.77,0.06],[4.81,0.07],[4.85,0.05],[4.89,0.06],[4.93,0.05],[4.97,0.06],[5.01,0.05],[5.05,0.07],[5.08,0.12],[5.11,0.06],[5.15,0.04],[5.19,0.05],[5.21,0.02],[5.222,0.25],[5.235,0.82],[5.243,0.6],[5.253,-0.2],[5.263,-0.48],[5.275,-0.3],
[5.3,-0.27],[5.34,-0.28],[5.38,-0.3],[5.42,-0.33],[5.46,-0.35],[5.5,-0.36],[5.53,-0.33],[5.56,-0.22],[5.59,-0.06],[5.62,0.06],[5.645,0.13],[5.67,0.16],[5.695,0.12],[5.72,0.08],[5.76,0.07],[5.8,0.06],[5.84,0.07],[5.88,0.05],[5.92,0.06],[5.96,0.05],[5.998,0.05]]

const V4 = [[0,0.08],[0.04,0.075],[0.077,0.074],[0.115,0.088],[0.143,0.074],[0.175,0.055],[0.192,0.068],[0.236,0.068],[0.296,0.06],[0.323,0.06],[0.34,0.074],[0.351,0.1],[0.367,0.116],[0.389,0.166],[0.406,0.12],[0.422,0.074],[0.444,0.055],[0.461,0.032],[0.471,0.038],[0.485,0.055],[0.499,-0.018],[0.51,0.2],[0.52,0.7],[0.531,0.947],[0.542,0.5],[0.548,-0.04],[0.559,-0.085],[0.57,-0.05],[0.592,-0.03],[0.636,-0.037],[0.658,-0.05],[0.691,-0.05],[0.757,-0.023],[0.801,0],[0.822,0.032],[0.844,0.055],[0.888,0.1],[0.932,0.15],[0.976,0.15],[1.009,0.1],[1.031,0.055],[1.047,0.093],[1.058,0.06],[1.113,0.082],[1.129,0.1],[1.173,0.074],[1.206,0.055],[1.272,0.046],[1.288,0.082],[1.311,0.055],[1.36,0.055],[1.393,0.032],[1.409,0.055],[1.48,0.044],[1.502,0.066],[1.535,0.088],[1.557,0.116],[1.57,0.15],[1.59,0.088],[1.612,0.055],[1.656,0.032],[1.678,0.018],[1.689,-0.023],[1.7,0.25],[1.711,1],[1.719,1.09],[1.726,0.64],[1.741,-0.065],[1.749,-0.037],[1.766,-0.05],[1.796,-0.046],
[1.82,-0.05],[1.86,-0.06],[1.9,-0.05],[1.94,-0.07],[1.98,-0.05],[2.02,-0.03],[2.06,0.03],[2.1,0.08],[2.14,0.13],[2.16,0.15],[2.19,0.15],[2.22,0.12],[2.25,0.1],[2.28,0.08],[2.32,0.09],[2.36,0.06],[2.4,0.07],[2.44,0.05],[2.48,0.07],[2.52,0.05],[2.56,0.06],[2.6,0.05],[2.64,0.07],[2.68,0.06],[2.71,0.1],[2.735,0.13],[2.76,0.07],[2.8,0.05],[2.83,0.04],[2.855,0.02],[2.863,0.3],[2.871,1.1],[2.876,1.22],[2.883,0.7],[2.89,-0.08],[2.9,-0.15],[2.91,-0.1],
[2.94,-0.11],[2.98,-0.13],[3.02,-0.12],[3.06,-0.14],[3.1,-0.12],[3.14,-0.1],[3.18,-0.05],[3.22,0.02],[3.26,0.07],[3.29,0.1],[3.32,0.1],[3.35,0.07],[3.39,0.05],[3.43,0.04],[3.47,0.05],[3.51,0.03],[3.55,0.04],[3.59,0.03],[3.63,0.05],[3.67,0.04],[3.71,0.03],[3.75,0.04],[3.79,0.03],[3.83,0.05],[3.87,0.07],[3.9,0.12],[3.925,0.07],[3.96,0.04],[4,0.03],[4.03,0.02],[4.048,0],[4.056,0.3],[4.064,1.05],[4.07,1.14],[4.077,0.7],[4.085,-0.06],[4.095,-0.11],[4.11,-0.08],
[4.14,-0.1],[4.18,-0.12],[4.22,-0.11],[4.26,-0.14],[4.3,-0.12],[4.34,-0.1],[4.38,-0.06],[4.42,0],[4.46,0.05],[4.5,0.08],[4.53,0.08],[4.56,0.05],[4.6,0.02],[4.64,0.01],[4.68,0.02],[4.72,0],[4.76,0.01],[4.8,-0.01],[4.84,0.01],[4.88,0],[4.92,-0.01],[4.96,0.01],[5,0],[5.04,0.01],[5.07,0.05],[5.095,0.09],[5.12,0.03],[5.16,0],[5.2,-0.01],[5.225,-0.02],[5.233,0.3],[5.241,0.9],[5.247,0.99],[5.254,0.6],[5.262,-0.08],[5.272,-0.15],[5.285,-0.1],
[5.31,-0.12],[5.35,-0.14],[5.39,-0.13],[5.43,-0.15],[5.47,-0.12],[5.51,-0.09],[5.55,-0.04],[5.59,0],[5.63,0.03],[5.66,0.04],[5.69,0.03],[5.72,0.01],[5.76,0],[5.8,-0.01],[5.84,0],[5.88,-0.02],[5.92,-0.01],[5.96,-0.03],[5.998,-0.02]]

const V5 = [[0,-0.07],[0.04,-0.065],[0.077,-0.068],[0.099,-0.068],[0.115,-0.088],[0.154,-0.088],[0.186,-0.074],[0.23,-0.074],[0.252,-0.088],[0.269,-0.066],[0.28,-0.06],[0.291,-0.088],[0.329,-0.066],[0.356,-0.038],[0.373,0.01],[0.389,0.03],[0.406,-0.018],[0.428,-0.074],[0.461,-0.088],[0.477,-0.1],[0.488,-0.116],[0.499,-0.185],[0.51,-0.158],[0.521,0.33],[0.531,0.763],[0.542,0.625],[0.55,0.275],[0.559,0.12],[0.576,0.038],[0.587,0.024],[0.603,0.038],[0.625,0.024],[0.647,0.018],[0.669,0.038],[0.691,0.046],[0.713,0.057],[0.729,0.085],[0.746,0.093],[0.768,0.113],[0.784,0.135],[0.801,0.158],[0.822,0.19],[0.842,0.205],[0.857,0.247],[0.899,0.252],[0.921,0.219],[0.943,0.19],[0.965,0.135],[0.987,0.066],[1.003,0],[1.02,-0.018],[1.042,-0.032],[1.053,-0.06],[1.069,-0.066],[1.096,-0.046],[1.118,-0.074],[1.162,-0.066],[1.217,-0.082],[1.272,-0.082],[1.316,-0.074],[1.338,-0.093],[1.365,-0.082],[1.404,-0.088],[1.447,-0.082],[1.48,-0.074],[1.546,-0.046],[1.57,0.018],[1.59,-0.004],[1.623,-0.074],[1.667,-0.082],[1.683,-0.116],[1.691,-0.222],[1.7,-0.032],[1.719,0.944],[1.741,0.302],[1.754,0.08],[1.771,0.052],[1.796,0.038],
[1.81,0.04],[1.85,0.03],[1.89,0.06],[1.93,0.1],[1.97,0.16],[2,0.22],[2.03,0.28],[2.055,0.31],[2.08,0.3],[2.11,0.25],[2.14,0.17],[2.17,0.08],[2.2,0.01],[2.23,-0.04],[2.27,-0.07],[2.31,-0.08],[2.35,-0.07],[2.39,-0.09],[2.43,-0.08],[2.47,-0.1],[2.51,-0.09],[2.55,-0.1],[2.59,-0.08],[2.63,-0.09],[2.67,-0.07],[2.7,-0.03],[2.725,0.01],[2.75,-0.04],[2.78,-0.08],[2.81,-0.09],[2.835,-0.11],[2.85,-0.2],[2.86,-0.15],[2.868,0.4],[2.876,1.08],[2.884,0.8],[2.893,0.3],[2.905,0.1],[2.92,0.04],
[2.96,0.03],[3,0.04],[3.04,0.03],[3.08,0.06],[3.12,0.09],[3.16,0.14],[3.19,0.19],[3.215,0.24],[3.235,0.26],[3.26,0.24],[3.29,0.19],[3.32,0.11],[3.345,0.04],[3.37,-0.03],[3.4,-0.08],[3.44,-0.1],[3.48,-0.09],[3.52,-0.11],[3.56,-0.1],[3.6,-0.12],[3.64,-0.1],[3.68,-0.11],[3.72,-0.1],[3.76,-0.12],[3.8,-0.1],[3.84,-0.08],[3.87,-0.05],[3.895,-0.03],[3.92,-0.08],[3.96,-0.11],[4,-0.12],[4.03,-0.14],[4.045,-0.23],[4.055,-0.18],[4.063,0.4],[4.07,1.03],[4.078,0.75],[4.087,0.3],[4.1,0.08],[4.115,0.03],
[4.15,0.02],[4.19,0.04],[4.23,0.03],[4.27,0.06],[4.31,0.09],[4.35,0.13],[4.38,0.17],[4.41,0.2],[4.44,0.22],[4.47,0.21],[4.5,0.17],[4.53,0.1],[4.56,0.02],[4.59,-0.05],[4.62,-0.1],[4.66,-0.12],[4.7,-0.13],[4.74,-0.12],[4.78,-0.14],[4.82,-0.13],[4.86,-0.15],[4.9,-0.13],[4.94,-0.14],[4.98,-0.12],[5.02,-0.13],[5.05,-0.1],[5.08,-0.06],[5.1,-0.08],[5.13,-0.12],[5.17,-0.14],[5.2,-0.15],[5.222,-0.24],[5.232,-0.18],[5.24,0.35],[5.248,0.92],[5.256,0.7],[5.265,0.25],[5.278,0.06],[5.29,0.02],
[5.32,0.02],[5.36,0.04],[5.4,0.06],[5.44,0.09],[5.48,0.13],[5.52,0.17],[5.555,0.21],[5.585,0.22],[5.61,0.2],[5.64,0.14],[5.67,0.06],[5.7,-0.02],[5.735,-0.08],[5.77,-0.11],[5.81,-0.12],[5.85,-0.13],[5.89,-0.12],[5.93,-0.14],[5.96,-0.13],[5.998,-0.14]]

const V6 = [[0,-0.044],[0.05,-0.041],[0.074,-0.054],[0.11,-0.048],[0.146,-0.052],[0.194,-0.041],[0.23,-0.05],[0.301,-0.028],[0.325,-0.024],[0.361,-0.001],[0.383,0.053],[0.409,0.016],[0.439,-0.03],[0.469,-0.028],[0.487,-0.057],[0.511,-0.163],[0.521,0.2],[0.531,0.547],[0.542,0.54],[0.55,0.38],[0.564,0.18],[0.588,0.122],[0.612,0.155],[0.654,0.131],[0.678,0.158],[0.708,0.162],[0.732,0.195],[0.78,0.224],[0.809,0.277],[0.828,0.274],[0.857,0.318],[0.899,0.307],[0.923,0.285],[0.959,0.2],[1.001,0.049],[1.055,0.003],[1.09,-0.037],[1.156,-0.028],[1.192,-0.057],[1.234,-0.037],[1.318,-0.028],[1.34,-0.06],[1.372,-0.03],[1.396,-0.054],[1.45,-0.03],[1.5,-0.03],[1.54,-0.02],[1.57,0.02],[1.59,0.06],[1.61,0.02],[1.64,-0.04],[1.67,-0.05],[1.685,-0.08],[1.698,-0.16],[1.708,0.2],[1.718,0.62],[1.727,0.5],[1.74,0.25],[1.76,0.15],[1.79,0.14],[1.82,0.16],[1.86,0.15],[1.9,0.18],[1.94,0.2],[1.98,0.25],[2.02,0.29],[2.055,0.31],[2.09,0.3],[2.12,0.2],[2.15,0.06],[2.18,0],[2.22,-0.03],[2.26,-0.04],[2.3,-0.03],[2.34,-0.05],[2.38,-0.04],[2.42,-0.06],[2.46,-0.05],[2.5,-0.06],[2.54,-0.04],[2.58,-0.06],[2.62,-0.05],[2.66,-0.03],[2.7,0],[2.73,0.04],[2.76,-0.01],[2.8,-0.06],[2.83,-0.09],[2.848,-0.14],[2.858,-0.1],[2.868,0.3],[2.878,0.64],[2.886,0.5],[2.897,0.25],[2.91,0.16],
[2.94,0.14],[2.98,0.15],[3.02,0.14],[3.06,0.17],[3.1,0.19],[3.14,0.21],[3.18,0.23],[3.22,0.25],[3.26,0.24],[3.3,0.17],[3.33,0.08],[3.36,0],[3.4,-0.06],[3.44,-0.08],[3.48,-0.07],[3.52,-0.09],[3.56,-0.08],[3.6,-0.09],[3.64,-0.07],[3.68,-0.09],[3.72,-0.08],[3.76,-0.09],[3.8,-0.07],[3.84,-0.05],[3.875,-0.02],[3.905,0],[3.935,-0.06],[3.97,-0.09],[4,-0.1],[4.03,-0.12],[4.045,-0.18],[4.055,-0.12],[4.064,0.3],[4.073,0.62],[4.081,0.5],[4.092,0.25],[4.105,0.15],
[4.14,0.14],[4.18,0.15],[4.22,0.14],[4.26,0.16],[4.3,0.17],[4.34,0.18],[4.38,0.19],[4.42,0.2],[4.46,0.21],[4.5,0.19],[4.53,0.13],[4.56,0.04],[4.59,-0.04],[4.62,-0.09],[4.66,-0.11],[4.7,-0.12],[4.74,-0.11],[4.78,-0.13],[4.82,-0.12],[4.86,-0.13],[4.9,-0.11],[4.94,-0.13],[4.98,-0.12],[5.02,-0.1],[5.06,-0.06],[5.09,-0.03],[5.12,-0.08],[5.16,-0.12],[5.19,-0.13],[5.215,-0.16],[5.225,-0.22],[5.235,0.1],[5.245,0.54],[5.253,0.45],[5.265,0.2],[5.28,0.12],
[5.31,0.14],[5.35,0.15],[5.39,0.14],[5.43,0.16],[5.47,0.17],[5.51,0.18],[5.545,0.2],[5.578,0.21],[5.6,0.2],[5.623,0.18],[5.655,0.1],[5.683,0.04],[5.709,-0.05],[5.741,-0.11],[5.756,-0.125],[5.777,-0.148],[5.795,-0.135],[5.817,-0.125],[5.838,-0.157],[5.885,-0.153],[5.922,-0.145],[5.946,-0.156],[5.998,-0.156]]

const leadData = [aVL, leadI, aVR, leadII, aVF, leadIII, V1, V2, V3, V4, V5, V6]

const width = 4320
const height = 5039
const margin = { top: 44, right: 45, bottom: 60, left: 61 }

// drawn in a 4320x5039 box that is scaled to whatever the window really is
const svg = d3.select("#chart").append("svg")
    .attr("viewBox", `0 0 ${width} ${height}`)
    .attr("preserveAspectRatio", "none")
    .style("width", "100vw")
    .style("height", "100vh")

const x = d3.scaleLinear().domain(xLimits).range([margin.left, width - margin.right])
const y = d3.scaleLinear().domain(yLimits).range([height - margin.bottom, margin.top])

// multiples of a step that fall inside the limits
const multiples = (lims, s) => d3.range(Math.ceil(lims[0] / s - 1e-6), Math.floor(lims[1] / s + 1e-6) + 1).map(i => +(i * s).toFixed(4))
const xMajor = multiples(xLimits, 0.2)
const xMinor = multiples(xLimits, 0.04)
const yMajor = multiples(yLimits, 0.5)
const yMinor = multiples(yLimits, 0.1)

const gridGroup = svg.append("g").attr("id", "gridGroup")

function vLines(vals, cls, color, w, dash) {
    gridGroup.selectAll("line." + cls).data(vals).enter().append("line")
        .attr("class", cls)
        .attr("x1", d => x(d)).attr("x2", d => x(d))
        .attr("y1", y.range()[0]).attr("y2", y.range()[1])
        .attr("stroke", color).attr("stroke-width", w)
        .attr("stroke-dasharray", dash)
}
function hLines(vals, cls, color, w, dash) {
    gridGroup.selectAll("line." + cls).data(vals).enter().append("line")
        .attr("class", cls)
        .attr("x1", x.range()[0]).attr("x2", x.range()[1])
        .attr("y1", d => y(d)).attr("y2", d => y(d))
        .attr("stroke", color).attr("stroke-width", w)
        .attr("stroke-dasharray", dash)
}
vLines(xMinor, "vminor", "#cfcfcf", 1.8, "2 3.4")
hLines(yMinor, "hminor", "#cfcfcf", 1.8, "2 3.4")
vLines(xMajor, "vmajor", "#cccccc", 3.2, null)
hLines(yMajor, "hmajor", "#cccccc", 3.2, null)

// traces and lead names
const traceGroup = svg.append("g").attr("id", "traceGroup")
leadData.forEach((data, i) => {
    const line = d3.line().x(d => x(d[0])).y(d => y(d[1] + leadOffsets[i]))
    traceGroup.append("path")
        .datum(data)
        .attr("d", line)
        .attr("fill", "none")
        .attr("stroke", "#0000ff")
        .attr("stroke-width", 5.5)
        .attr("stroke-linejoin", "round")

    traceGroup.append("text")
        .attr("x", x(-0.02))
        .attr("y", y(data[0][1] + leadOffsets[i]) + 18)
        .attr("text-anchor", "end")
        .attr("font-family", "DejaVu Sans")
        .attr("font-weight", "bold")
        .attr("font-size", 61)
        .text(leadNames[i])
})

// axis ticks, no labels
const axisGroup = svg.append("g").attr("id", "axisGroup")
const bottomY = y.range()[0]
const tickStyle = g => {
    g.select(".domain").remove()
    g.selectAll(".tick line").attr("stroke", "#000").attr("stroke-width", 3)
}
axisGroup.append("g").attr("transform", `translate(0, ${bottomY})`)
    .call(d3.axisBottom(x).tickValues(xMinor).tickSize(8).tickFormat("")).call(tickStyle)
axisGroup.append("g").attr("transform", `translate(0, ${bottomY})`)
    .call(d3.axisBottom(x).tickValues(xMajor).tickSize(15).tickFormat("")).call(tickStyle)
axisGroup.append("g").attr("transform", `translate(${x.range()[0]}, 0)`)
    .call(d3.axisLeft(y).tickValues(yMinor).tickSize(8).tickFormat("")).call(tickStyle)
axisGroup.append("g").attr("transform", `translate(${x.range()[0]}, 0)`)
    .call(d3.axisLeft(y).tickValues(yMajor).tickSize(15).tickFormat("")).call(tickStyle)

// frame
svg.append("rect")
    .attr("x", x.range()[0]).attr("y", y.range()[1])
    .attr("width", x.range()[1] - x.range()[0])
    .attr("height", y.range()[0] - y.range()[1])
    .attr("fill", "none").attr("stroke", "#000").attr("stroke-width", 3)

svg.append("text")
    .attr("x", (x.range()[0] + x.range()[1]) / 2)
    .attr("y", bottomY - 5)
    .attr("text-anchor", "middle")
    .attr("font-family", "DejaVu Sans")
    .attr("font-size", 46)
    .text(caption)
</script>
</body>
</html>
